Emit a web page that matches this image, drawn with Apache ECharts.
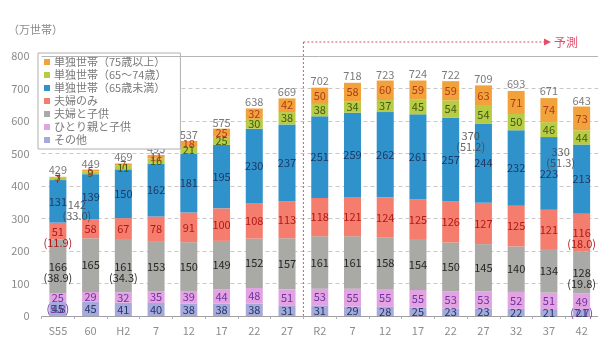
<!DOCTYPE html>
<html><head><meta charset="utf-8">
<script src="https://cdn.jsdelivr.net/npm/echarts@6/dist/echarts.min.js"></script>
<style>html,body{margin:0;padding:0;background:#fff}#c{width:598px;height:347px}</style>
</head><body><div id="c"></div>
<script>
// ---- data (万世帯) ----
const categories = ['S55','60','H2','7','12','17','22','27','R2','7','12','17','22','27','32','37','42'];
const other        = [45,45,41,40,38,38,38,31,31,29,28,25,23,23,22,21,21];
const singleParent = [25,29,32,35,39,44,48,51,53,55,55,55,53,53,52,51,49];
const coupleChild  = [166,165,161,153,150,149,152,157,161,161,158,154,150,145,140,134,128];
const coupleOnly   = [51,58,67,78,91,100,108,113,118,121,124,125,126,127,125,121,116];
const singleU65    = [131,139,150,162,181,195,230,237,251,259,262,261,257,244,232,223,213];
const single6574   = [7,9,11,16,21,25,30,38,38,34,37,45,54,54,50,46,44];
const single75     = [3,5,7,11,18,25,32,42,50,58,60,59,59,63,71,74,73];
const totals       = [429,449,469,495,537,575,638,669,702,718,723,724,722,709,693,671,643];
// shares (%) shown under some labels
const shareCoupleOnly   = ['(11.9)','','','','','','','','','','','','','','','','(18.0)'];
const shareCoupleChild  = ['(38.9)','','(34.3)','','','','','','','','','','','','','','(19.8)'];
const shareSingleParent = ['(5.8)','','','','','','','','','','','','','','','','(7.7)'];
// single-household totals (share)
const singleNoteIdx  = [0, 12, 16];
const singleNoteText = ['142\n(33.0)', '370\n(51.2)', '330\n(51.3)'];
const yTicks = [0,100,200,300,400,500,600,700,800];

const FONT = '"Noto Sans CJK JP", "Noto Sans", sans-serif';
const chart = echarts.init(document.getElementById('c'), null, {renderer:'canvas'});

function mkSeries(name, vals, color, labelColor, shares) {
  return {
    name, type:'bar', stack:'t', barWidth:17,
    itemStyle:{color},
    data: vals.map((v,i)=>{
      const s = shares && shares[i];
      if (s) return {value:v, label:{formatter: v + '\n' + s, offset:[0,6], lineHeight:11}};
      return v;
    }),
    label:{show:true, position:'inside', color:labelColor, fontSize:11, fontFamily:FONT, formatter:'{c}'}
  };
}

// anchors for single-household notes: inside the blue segment, shifted sideways
const noteFrac = [0.3, 0.72, 0.82];
const noteOffX = [19, 20, -21];
const noteData = singleNoteIdx.map((i,k)=>{
  const base = other[i]+singleParent[i]+coupleChild[i]+coupleOnly[i];
  return {value:[i, base + singleU65[i]*noteFrac[k]], label:{formatter:singleNoteText[k], offset:[noteOffX[k], 0]}};
});

const series = [
  mkSeries('その他', other, '#A7A9DC', '#203864'),
  mkSeries('ひとり親と子供', singleParent, '#E2A3E2', '#7030A0', shareSingleParent),
  mkSeries('夫婦と子供', coupleChild, '#A9AAA6', '#262626', shareCoupleChild),
  mkSeries('夫婦のみ', coupleOnly, '#F57D6D', '#B01818', shareCoupleOnly),
  mkSeries('単独世帯（65歳未満）', singleU65, '#3092CB', '#1F3864'),
  mkSeries('単独世帯（65～74歳）', single6574, '#B7CC44', '#3F5A10'),
  mkSeries('単独世帯（75歳以上）', single75, '#F2A23A', '#B03A1A'),
  {
    name:'total', type:'scatter', symbolSize:0, silent:true,
    data: totals.map((v,i)=>[i,v]),
    label:{show:true, position:'top', distance:1, color:'#595959', fontSize:11, fontFamily:FONT, formatter:p=>p.value[1]},
    markLine:{silent:true, symbol:'none', label:{show:false}, lineStyle:{color:'#b5b5b5', type:'solid', width:1}, data:[{yAxis:800}]}
  },
  {
    name:'note', type:'scatter', symbolSize:0, silent:true,
    data: noteData,
    label:{show:true, position:'inside', color:'#404040', fontSize:11, lineHeight:11, fontFamily:FONT}
  }
];

chart.setOption({
  animation:false,
  textStyle:{fontFamily:FONT},
  grid:{left:41.5, right:-6, top:55.8, bottom:31},
  legend:{
    orient:'vertical', left:38, top:53, itemWidth:6, itemHeight:6, itemGap:1,
    padding:[3,14,3,6], borderColor:'#b0b0b0', borderWidth:1, backgroundColor:'#fff',
    icon:'rect',
    textStyle:{fontSize:11, color:'#7a7a7a', lineHeight:12, fontFamily:FONT, padding:[0,0,0,-1]},
    data:['単独世帯（75歳以上）','単独世帯（65～74歳）','単独世帯（65歳未満）','夫婦のみ','夫婦と子供','ひとり親と子供','その他']
  },
  xAxis:{
    type:'category', data:categories,
    axisLine:{lineStyle:{color:'#a0a0a0'}},
    axisTick:{show:true, length:3, lineStyle:{color:'#b0b0b0'}},
    axisLabel:{color:'#8c8c8c', fontSize:11, margin:9, interval:0, fontFamily:FONT}
  },
  yAxis:{
    type:'value', min:yTicks[0], max:yTicks[yTicks.length-1], interval:100,
    axisLine:{show:false}, axisTick:{show:false},
    axisLabel:{color:'#8a8a8a', fontSize:11, margin:12, fontFamily:FONT},
    splitLine:{lineStyle:{color:'#c8c8c8', type:[4,3]}}
  },
  series
});

// forecast marker (between 27 and R2)
const xa = chart.convertToPixel({xAxisIndex:0}, 7);
const xb = chart.convertToPixel({xAxisIndex:0}, 8);
const xm = (xa+xb)/2;
const y0 = chart.convertToPixel({yAxisIndex:0}, 0);
const lineY = 42;
const red = '#E0506A';
chart.setOption({
  graphic:[
    {type:'text', left:8, top:24, style:{text:'（万世帯）', fontSize:11, fill:'#8a8a8a', fontFamily:FONT}},
    {type:'line', shape:{x1:xm, y1:lineY, x2:xm, y2:y0}, style:{stroke:red, lineWidth:1, lineDash:[2,2]}, z:10},
    {type:'line', shape:{x1:xm, y1:lineY, x2:545, y2:lineY}, style:{stroke:red, lineWidth:1, lineDash:[2,2]}, z:10},
    {type:'polygon', shape:{points:[[544,38.5],[551,42],[544,45.5]]}, style:{fill:red}, z:10},
    {type:'text', x:554, y:lineY, style:{text:'予測', fontSize:12, fill:red, fontFamily:FONT, verticalAlign:'middle'}, z:10}
  ]
});
</script></body></html>
